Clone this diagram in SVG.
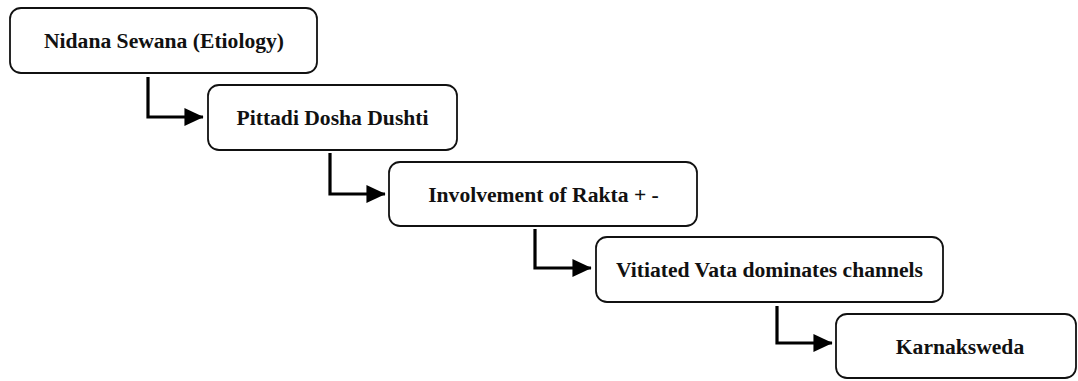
<svg xmlns="http://www.w3.org/2000/svg" width="1078" height="381" viewBox="0 0 1078 381">
<style>
.box{fill:#fff;stroke:#111;stroke-width:1.8}
.lbl{font-family:"Liberation Serif","Times New Roman",serif;font-weight:bold;font-size:21.6px;fill:#111;text-anchor:middle}
.con{fill:none;stroke:#000;stroke-width:3.2}
</style>
<defs>
<marker id="ah" markerWidth="6" markerHeight="6" refX="5.8" refY="3" orient="auto" markerUnits="strokeWidth" viewBox="0 0 6 6">
<path d="M0,0.2 L6,3 L0,5.8 Z" fill="#000"/>
</marker>
</defs>
<rect width="1078" height="381" fill="#fff"/>
<g id="connectors">
<path class="con" d="M148,77 V117 H203" marker-end="url(#ah)"/>
<path class="con" d="M330,153 V194 H385" marker-end="url(#ah)"/>
<path class="con" d="M535,229 V268 H591" marker-end="url(#ah)"/>
<path class="con" d="M777,306 V343 H832" marker-end="url(#ah)"/>
</g>
<g id="n1"><rect class="box" x="10" y="8" width="307" height="65" rx="11"/><text class="lbl" x="164" y="48">Nidana Sewana (Etiology)</text></g>
<g id="n2"><rect class="box" x="208" y="85" width="249" height="65" rx="11"/><text class="lbl" x="332.5" y="125">Pittadi Dosha Dushti</text></g>
<g id="n3"><rect class="box" x="389" y="162" width="308" height="64" rx="11"/><text class="lbl" x="543.5" y="201.5">Involvement of Rakta + -</text></g>
<g id="n4"><rect class="box" x="596" y="237" width="347" height="65" rx="11"/><text class="lbl" x="769.5" y="277">Vitiated Vata dominates channels</text></g>
<g id="n5"><rect class="box" x="836" y="314" width="240" height="64" rx="11"/><text class="lbl" x="960" y="353.5">Karnaksweda</text></g>
</svg>
